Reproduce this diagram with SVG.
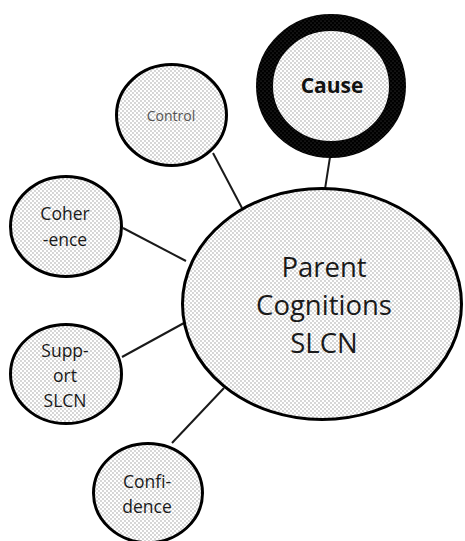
<svg xmlns="http://www.w3.org/2000/svg" width="465" height="541" viewBox="0 0 465 541">
  <defs>
    <!-- light dotted fill used inside every bubble -->
    <pattern id="dots" width="4" height="4" patternUnits="userSpaceOnUse">
      <rect width="4" height="4" fill="#ffffff"/>
      <circle cx="1" cy="1" r="0.65" fill="#8c8c8c"/>
      <circle cx="3" cy="3" r="0.65" fill="#8c8c8c"/>
    </pattern>
    <!-- dark dotted fill for the heavy ring -->
    <pattern id="darkDots" width="4" height="4" patternUnits="userSpaceOnUse">
      <rect width="4" height="4" fill="#000000"/>
      <circle cx="1" cy="1" r="0.5" fill="#555555"/>
      <circle cx="3" cy="3" r="0.5" fill="#555555"/>
    </pattern>
  </defs>
  <style>
    .bubble { fill: url(#dots); stroke: #000; stroke-width: 3; }
    .ring { fill: url(#dots); stroke: url(#darkDots); stroke-width: 17; }
    .link { stroke: #1a1a1a; stroke-width: 2; fill: none; }
    text { font-family: "Open Sans", "Liberation Sans", sans-serif; text-anchor: middle; fill: #1a1a1a; }
    .main { font-size: 27.5px; }
    .small { font-size: 17.5px; }
    .grey { font-size: 14px; fill: #555555; }
    .bold { font-size: 21px; font-weight: bold; fill: #111; }
  </style>

  <g id="connectors">
    <line class="link" x1="330" y1="157" x2="325" y2="189"/>
    <line class="link" x1="213" y1="153" x2="242" y2="208"/>
    <line class="link" x1="123" y1="228" x2="186" y2="261"/>
    <line class="link" x1="122" y1="357" x2="184" y2="323"/>
    <line class="link" x1="172" y1="443" x2="224" y2="388"/>
  </g>

  <g id="parent-cognitions">
    <ellipse class="bubble" cx="322" cy="304" rx="139.5" ry="115.5"/>
    <text class="main" x="324" y="277">Parent</text>
    <text class="main" x="324" y="315">Cognitions</text>
    <text class="main" x="324" y="353">SLCN</text>
  </g>

  <g id="cause">
    <ellipse class="ring" cx="331" cy="86" rx="66.5" ry="63.5"/>
    <text class="bold" x="332" y="93">Cause</text>
  </g>

  <g id="control">
    <ellipse class="bubble" cx="171.5" cy="115" rx="55" ry="50.5"/>
    <text class="grey" x="171" y="121">Control</text>
  </g>

  <g id="coherence">
    <ellipse class="bubble" cx="66" cy="226.5" rx="55.5" ry="50"/>
    <text class="small" x="65" y="220">Coher</text>
    <text class="small" x="65" y="246">-ence</text>
  </g>

  <g id="support-slcn">
    <ellipse class="bubble" cx="66" cy="374" rx="55.5" ry="49.5"/>
    <text class="small" x="65" y="357">Supp-</text>
    <text class="small" x="65" y="382">ort</text>
    <text class="small" x="65" y="407">SLCN</text>
  </g>

  <g id="confidence">
    <ellipse class="bubble" cx="148" cy="493" rx="54.5" ry="49.5"/>
    <text class="small" x="147" y="488">Confi-</text>
    <text class="small" x="147" y="513">dence</text>
  </g>
</svg>
